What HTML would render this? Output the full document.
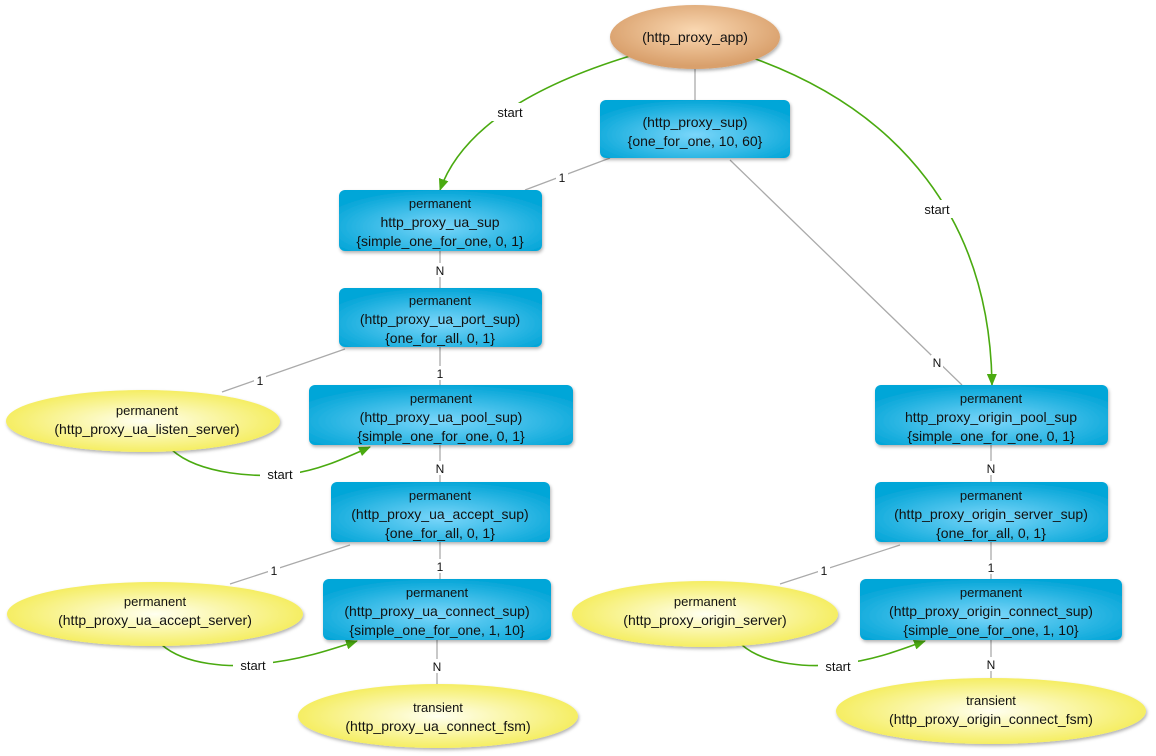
<!DOCTYPE html>
<html><head><meta charset="utf-8"><style>
html,body{margin:0;padding:0;background:#fff;}
svg{display:block;font-family:"Liberation Sans",sans-serif;}
</style></head><body>
<svg width="1156" height="756" viewBox="0 0 1156 756" xmlns="http://www.w3.org/2000/svg">
<defs>
<radialGradient id="gb" cx="50%" cy="60%" r="60%"><stop offset="0" stop-color="#7ad6fa"/><stop offset="1" stop-color="#05a6d8"/></radialGradient>
<radialGradient id="gy" cx="50%" cy="50%" r="55%"><stop offset="0" stop-color="#fffff0"/><stop offset="1" stop-color="#f4ec55"/></radialGradient>
<radialGradient id="go" cx="50%" cy="40%" r="55%"><stop offset="0" stop-color="#fad8b2"/><stop offset="1" stop-color="#d9a06c"/></radialGradient>
<filter id="sh" x="-10%" y="-10%" width="130%" height="140%"><feDropShadow dx="1" dy="2" stdDeviation="1.5" flood-color="#000" flood-opacity="0.3"/></filter>
<marker id="ar" markerWidth="12" markerHeight="10" refX="11" refY="5" orient="auto" markerUnits="userSpaceOnUse"><path d="M0,0 L12,5 L0,10 z" fill="#4aaa10"/></marker>
</defs>
<g stroke="#aaa" stroke-width="1.3" fill="none">
<line x1="695" y1="69" x2="695" y2="100"/>
<line x1="610" y1="158" x2="525" y2="190"/>
<line x1="730" y1="160" x2="962" y2="385"/>
<line x1="440" y1="251" x2="440" y2="288"/>
<line x1="345" y1="349" x2="222" y2="392"/>
<line x1="440" y1="347" x2="440" y2="385"/>
<line x1="440" y1="445" x2="440" y2="482"/>
<line x1="350" y1="545" x2="230" y2="584"/>
<line x1="440" y1="542" x2="440" y2="579"/>
<line x1="437" y1="640" x2="437" y2="684"/>
<line x1="991" y1="445" x2="991" y2="482"/>
<line x1="900" y1="545" x2="780" y2="584"/>
<line x1="991" y1="542" x2="991" y2="579"/>
<line x1="991" y1="640" x2="991" y2="678"/>
</g>
<g stroke="#4aaa10" stroke-width="1.6" fill="none" marker-end="url(#ar)">
<path d="M630,56 Q470,105 440,190"/>
<path d="M750,57 C900,110 990,220 992,385"/>
<path d="M172,450 C200,475 260,478 290,474 C320,470 345,458 370,447"/>
<path d="M162,645 C185,665 230,668 260,664 C300,660 330,650 357,641"/>
<path d="M742,645 C765,665 810,668 840,664 C875,660 900,650 925,641"/>
</g>
<g font-size="13" fill="#111" text-anchor="middle">
<rect x="490" y="103" width="40" height="18" fill="#fff"/><text x="510" y="117">start</text>
<rect x="917" y="200" width="40" height="18" fill="#fff"/><text x="937" y="214">start</text>
<rect x="260" y="465" width="40" height="18" fill="#fff"/><text x="280" y="479">start</text>
<rect x="233" y="656" width="40" height="18" fill="#fff"/><text x="253" y="670">start</text>
<rect x="818" y="657" width="40" height="18" fill="#fff"/><text x="838" y="671">start</text>
<g font-size="12">
<rect x="556" y="170" width="12" height="14" fill="#fff"/><text x="562" y="182">1</text>
<rect x="931" y="355" width="12" height="14" fill="#fff"/><text x="937" y="367">N</text>
<rect x="434" y="263" width="12" height="14" fill="#fff"/><text x="440" y="275">N</text>
<rect x="254" y="373" width="12" height="14" fill="#fff"/><text x="260" y="385">1</text>
<rect x="434" y="366" width="12" height="14" fill="#fff"/><text x="440" y="378">1</text>
<rect x="434" y="461" width="12" height="14" fill="#fff"/><text x="440" y="473">N</text>
<rect x="268" y="563" width="12" height="14" fill="#fff"/><text x="274" y="575">1</text>
<rect x="434" y="559" width="12" height="14" fill="#fff"/><text x="440" y="571">1</text>
<rect x="431" y="659" width="12" height="14" fill="#fff"/><text x="437" y="671">N</text>
<rect x="985" y="461" width="12" height="14" fill="#fff"/><text x="991" y="473">N</text>
<rect x="818" y="563" width="12" height="14" fill="#fff"/><text x="824" y="575">1</text>
<rect x="985" y="560" width="12" height="14" fill="#fff"/><text x="991" y="572">1</text>
<rect x="985" y="657" width="12" height="14" fill="#fff"/><text x="991" y="669">N</text>
</g>
</g>
<g filter="url(#sh)">
<ellipse cx="695" cy="37" rx="85" ry="32" fill="url(#go)"/>
<rect x="600" y="100" width="190" height="58" rx="6" fill="url(#gb)"/>
<rect x="339" y="190" width="203" height="61" rx="6" fill="url(#gb)"/>
<rect x="339" y="288" width="203" height="59" rx="6" fill="url(#gb)"/>
<rect x="309" y="385" width="264" height="60" rx="6" fill="url(#gb)"/>
<rect x="331" y="482" width="219" height="60" rx="6" fill="url(#gb)"/>
<rect x="323" y="579" width="228" height="61" rx="6" fill="url(#gb)"/>
<rect x="875" y="385" width="233" height="60" rx="6" fill="url(#gb)"/>
<rect x="875" y="482" width="233" height="60" rx="6" fill="url(#gb)"/>
<rect x="860" y="579" width="262" height="61" rx="6" fill="url(#gb)"/>
<ellipse cx="143" cy="421" rx="137" ry="31" fill="url(#gy)"/>
<ellipse cx="155" cy="614" rx="148" ry="32" fill="url(#gy)"/>
<ellipse cx="438" cy="716" rx="140" ry="32" fill="url(#gy)"/>
<ellipse cx="705" cy="614" rx="133" ry="33" fill="url(#gy)"/>
<ellipse cx="991" cy="711" rx="155" ry="33" fill="url(#gy)"/>
</g>
<g font-size="14" fill="#111" text-anchor="middle">
<text x="695" y="42">(http_proxy_app)</text>
<text x="695" y="127">(http_proxy_sup)</text><text x="695" y="146">{one_for_one, 10, 60}</text>
<text x="440" y="208" font-size="13">permanent</text><text x="440" y="227">http_proxy_ua_sup</text><text x="440" y="246">{simple_one_for_one, 0, 1}</text>
<text x="440" y="305" font-size="13">permanent</text><text x="440" y="324">(http_proxy_ua_port_sup)</text><text x="440" y="343">{one_for_all, 0, 1}</text>
<text x="441" y="403" font-size="13">permanent</text><text x="441" y="422">(http_proxy_ua_pool_sup)</text><text x="441" y="441">{simple_one_for_one, 0, 1}</text>
<text x="440" y="500" font-size="13">permanent</text><text x="440" y="519">(http_proxy_ua_accept_sup)</text><text x="440" y="538">{one_for_all, 0, 1}</text>
<text x="437" y="597" font-size="13">permanent</text><text x="437" y="616">(http_proxy_ua_connect_sup)</text><text x="437" y="635">{simple_one_for_one, 1, 10}</text>
<text x="991" y="403" font-size="13">permanent</text><text x="991" y="422">http_proxy_origin_pool_sup</text><text x="991" y="441">{simple_one_for_one, 0, 1}</text>
<text x="991" y="500" font-size="13">permanent</text><text x="991" y="519">(http_proxy_origin_server_sup)</text><text x="991" y="538">{one_for_all, 0, 1}</text>
<text x="991" y="597" font-size="13">permanent</text><text x="991" y="616">(http_proxy_origin_connect_sup)</text><text x="991" y="635">{simple_one_for_one, 1, 10}</text>
<text x="147" y="415" font-size="13">permanent</text><text x="147" y="434">(http_proxy_ua_listen_server)</text>
<text x="155" y="606" font-size="13">permanent</text><text x="155" y="625">(http_proxy_ua_accept_server)</text>
<text x="438" y="712" font-size="13">transient</text><text x="438" y="731">(http_proxy_ua_connect_fsm)</text>
<text x="705" y="606" font-size="13">permanent</text><text x="705" y="625">(http_proxy_origin_server)</text>
<text x="991" y="705" font-size="13">transient</text><text x="991" y="724">(http_proxy_origin_connect_fsm)</text>
</g>
</svg>
</body></html>
